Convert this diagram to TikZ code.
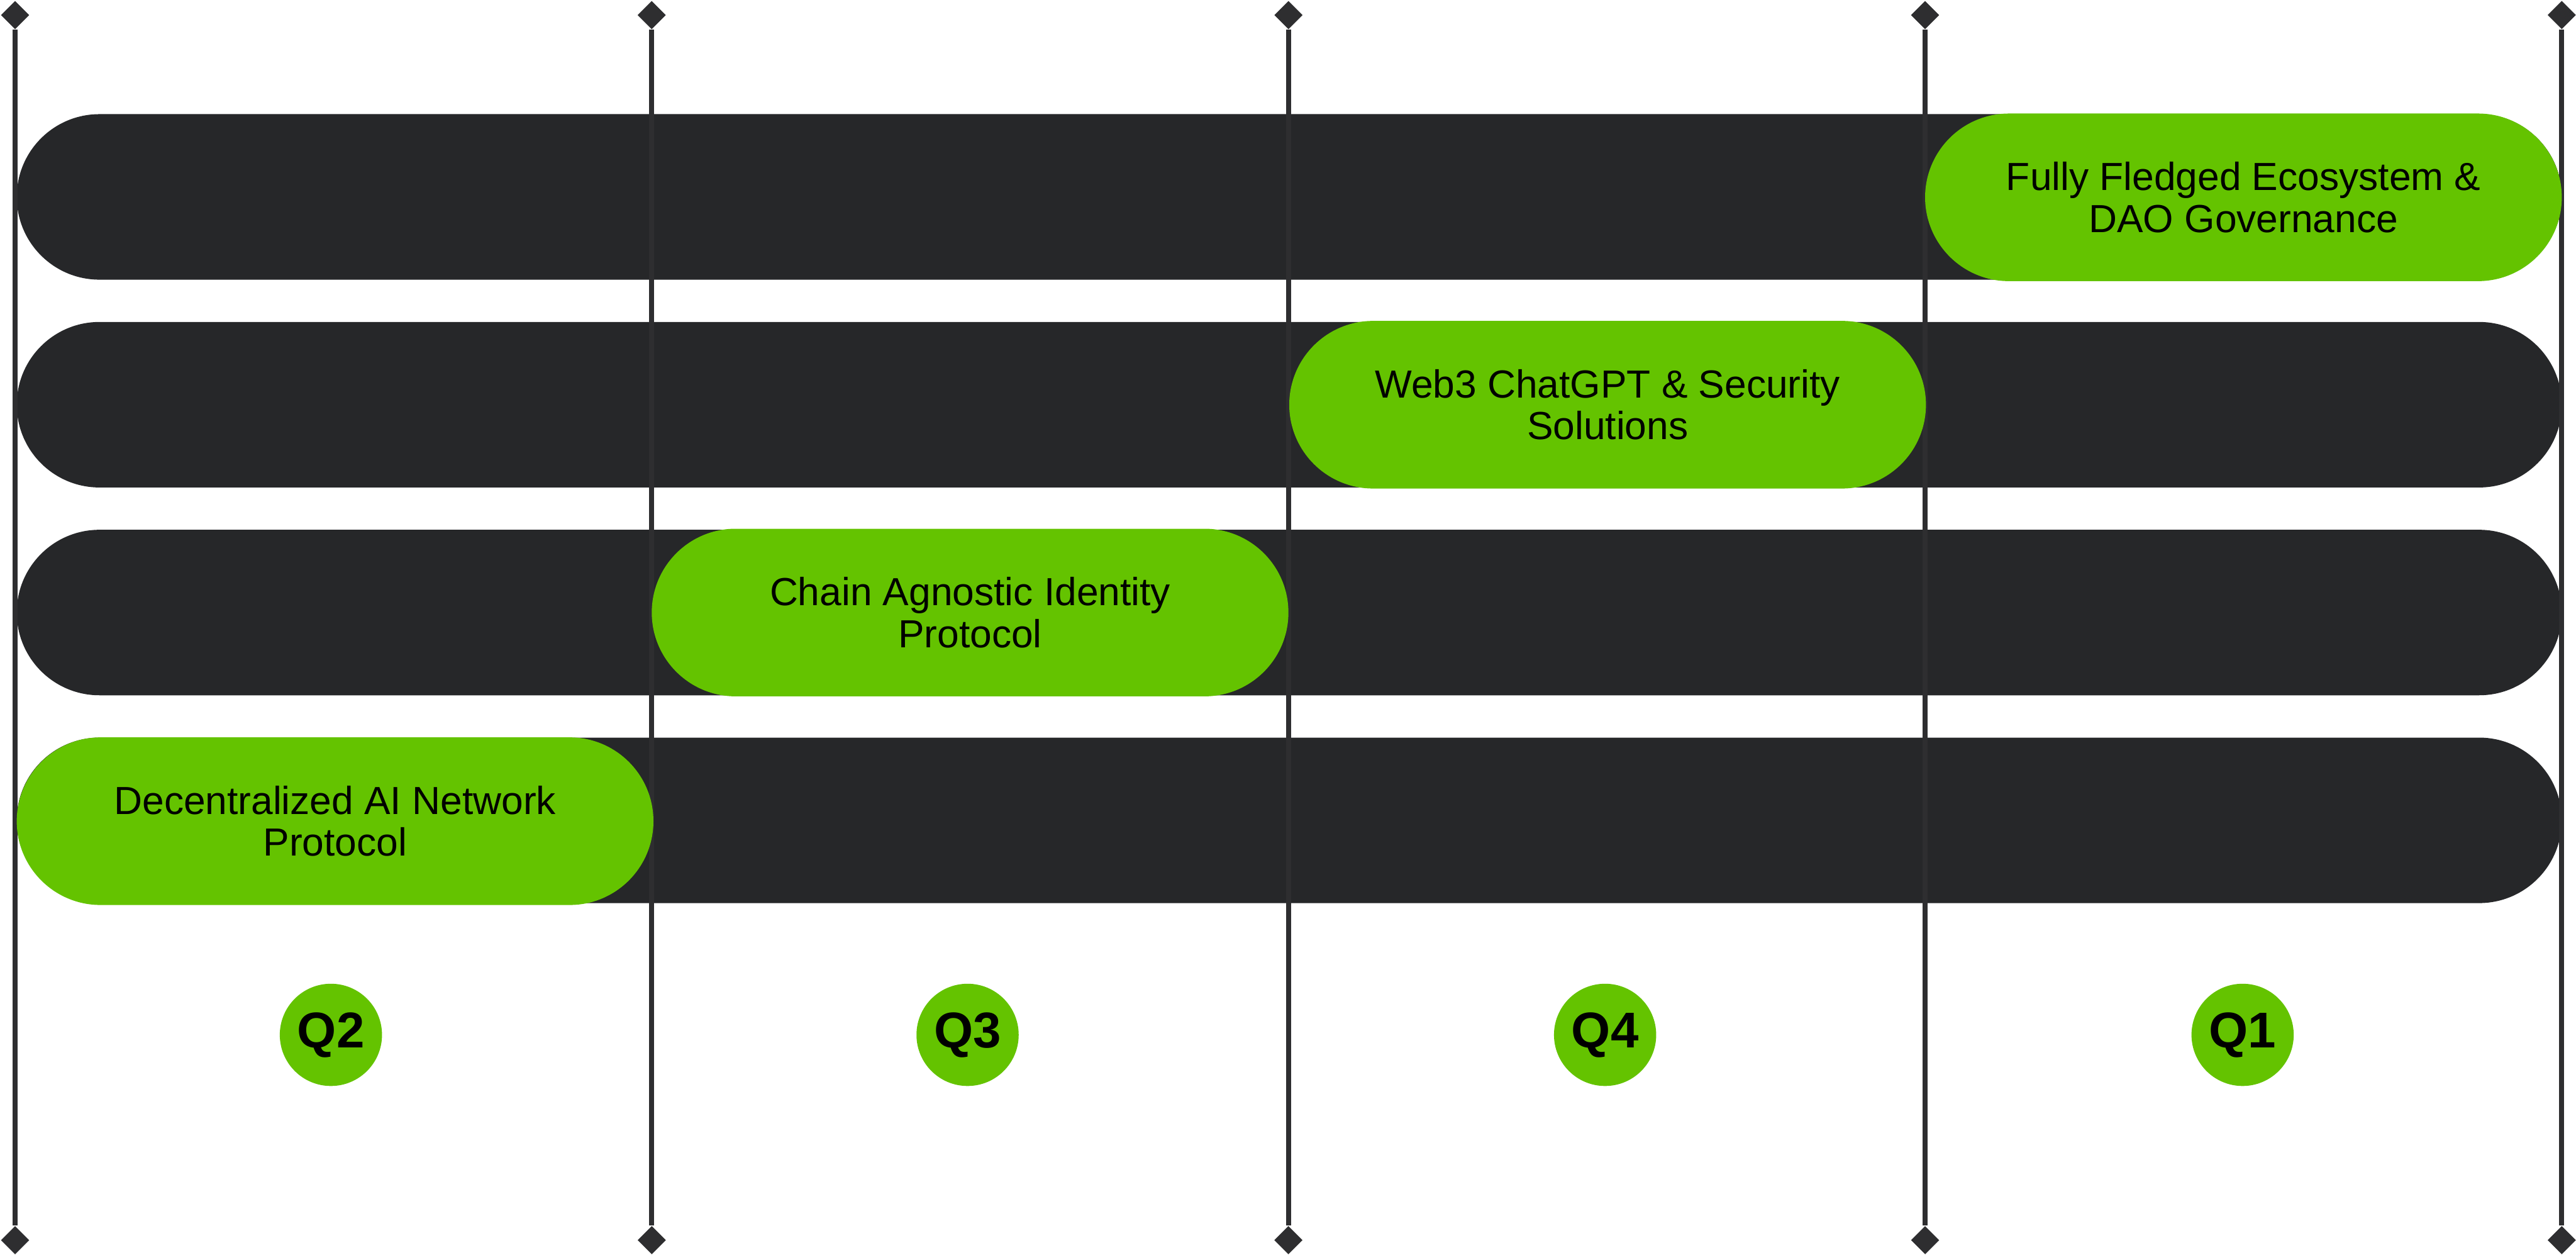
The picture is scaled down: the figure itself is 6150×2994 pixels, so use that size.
\documentclass[tikz,border=0pt]{standalone}
\usepackage{fontspec}
\setmainfont{Liberation Sans}
\usetikzlibrary{shapes.geometric,shapes.misc}
\definecolor{barc}{HTML}{262729}
\definecolor{linec}{HTML}{2E2E30}
\definecolor{grn}{HTML}{64C300}
\tikzset{
  darkbar/.style={rounded rectangle, fill=barc, inner sep=0pt, minimum width=1215.2pt, minimum height=79pt},
  greenpill/.style={rounded rectangle, fill=grn, inner sep=0pt, minimum width=304pt, minimum height=80pt, align=center, font=\fontsize{18.7pt}{20pt}\selectfont, text=black},
  tick/.style={diamond, fill=linec, inner sep=0pt, minimum size=13.6pt},
  vline/.style={draw=linec, line width=2.4pt},
  qmark/.style={circle, fill=grn, inner sep=0pt, minimum size=48.8pt, font=\fontsize{24pt}{24pt}\selectfont\bfseries, text=black}
}
\begin{document}
\begin{tikzpicture}[x=0.2pt,y=-0.2pt]
\useasboundingbox (0,0) rectangle (6150,2994);
% dark bars
\node[darkbar] (bar1) at (3078,470) {};
\node[darkbar] (bar2) at (3078,966) {};
\node[darkbar] (bar3) at (3078,1462) {};
\node[darkbar] (bar4) at (3078,1958) {};
% vertical timeline lines with diamond ends
\foreach \i/\x in {1/36,2/1556,3/3076,4/4596,5/6116}{
  \node[tick] (t\i) at (\x,36) {};
  \node[tick] (b\i) at (\x,2960) {};
  \draw[vline] (t\i) -- (b\i);
}
% green milestones
\node[greenpill] (g1) at (5356,471) {Fully Fledged Ecosystem \&\\DAO Governance};
\node[greenpill] (g2) at (3838,966) {Web3 ChatGPT \& Security\\Solutions};
\node[greenpill] (g3) at (2316,1462) {Chain Agnostic Identity\\Protocol};
\node[greenpill] (g4) at (800,1960) {Decentralized AI Network\\Protocol};
% quarter labels
\node[qmark] (q2) at (790,2470) {Q2};
\node[qmark] (q3) at (2310,2470) {Q3};
\node[qmark] (q4) at (3832,2470) {Q4};
\node[qmark] (q1) at (5354,2470) {Q1};
\end{tikzpicture}
\end{document}
